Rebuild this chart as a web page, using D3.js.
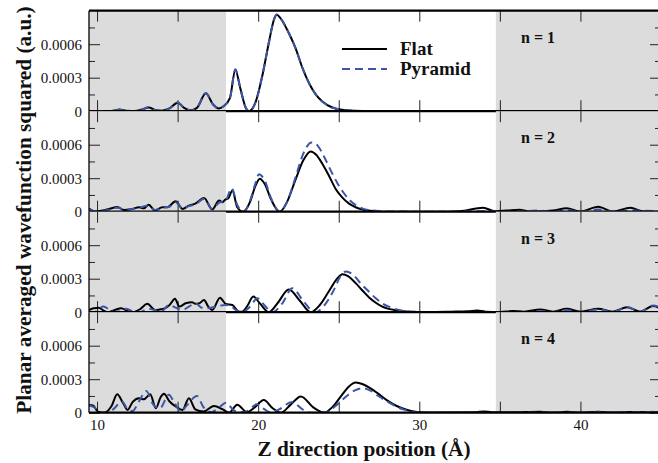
<!DOCTYPE html>
<html>
<head>
<meta charset="utf-8">
<script src="https://cdn.jsdelivr.net/npm/d3@7"></script>
<style>
  body { margin: 0; background: #fff; }
  text { font-family: "Liberation Serif", "Times New Roman", serif; fill: #111; }
</style>
</head>
<body>
<svg id="chart" width="658" height="463"></svg>
<script>
/* global d3 */

// values are in units of 1e-4 (a.u.), x in Angstrom
var flat1 = [[9.5,0.02],[10.5,0],[11,0.05],[11.4,0.15],[11.8,0.05],[12.3,0.02],[12.8,0.15],[13.2,0.33],[13.6,0.12],[14,0.05],[14.5,0.25],[15,0.75],[15.4,0.3],[15.8,0.08],[16.2,0.3],[16.75,1.6],[17.2,0.6],[17.55,0.25],[17.85,0.45],[18.25,1.2],[18.58,3.7],[18.9,2.0],[19.2,0.4],[19.43,0],[19.85,0.85],[20.26,3.2],[20.67,6.2],[20.98,8.2],[21.15,8.63],[21.4,8.3],[21.9,7.0],[22.33,5.6],[22.74,3.9],[23.16,2.5],[23.57,1.5],[23.98,0.87],[24.6,0.33],[25.2,0.12],[26,0.03],[27,0],[45,0]];
var pyramid1 = [[9.5,0.02],[10.5,0],[11,0.05],[11.4,0.13],[11.8,0.05],[12.3,0.02],[12.8,0.15],[13.2,0.35],[13.6,0.12],[14,0.05],[14.5,0.25],[15,0.78],[15.4,0.3],[15.8,0.08],[16.2,0.3],[16.75,1.62],[17.2,0.6],[17.55,0.25],[17.85,0.45],[18.25,1.2],[18.58,3.75],[18.9,2.0],[19.2,0.4],[19.43,0],[19.85,0.85],[20.26,3.2],[20.67,6.2],[20.98,8.2],[21.15,8.65],[21.4,8.3],[21.9,7.0],[22.33,5.6],[22.74,3.9],[23.16,2.5],[23.57,1.5],[23.98,0.87],[24.6,0.33],[25.2,0.12],[26,0.03],[27,0],[45,0]];

var flat2 = [[9.5,0.27],[9.9,0],[10.5,0.15],[11.26,0.42],[11.67,0.15],[12.2,0.25],[12.6,0.4],[12.9,0.3],[13.2,0.63],[13.6,0.1],[14.05,0.4],[14.36,0.4],[14.88,0.93],[15.3,0.25],[15.7,0.55],[16.1,0.72],[16.64,1.22],[17.15,0.2],[17.57,1.0],[17.78,0.85],[17.98,1.1],[18.15,1.2],[18.4,1.9],[18.7,0.4],[19.06,0],[19.5,0.9],[19.8,2.2],[20.1,2.96],[20.4,2.5],[20.8,1.1],[21.33,0],[21.8,0.9],[22.3,2.8],[22.8,4.6],[23.26,5.4],[23.6,5.1],[23.98,4.3],[24.4,3.2],[24.8,2.06],[25.2,1.3],[25.64,0.72],[26.05,0.4],[26.47,0.2],[27.3,0.05],[28,0],[31,0],[32.5,0.05],[33.96,0.35],[34.7,0.05],[35.4,0.1],[36.2,0.18],[36.8,0.02],[37.8,0.05],[38.3,0.1],[39.15,0.3],[40,0],[41.1,0.45],[42,0],[43.1,0.35],[43.9,0.02],[45,0]];
var pyramid2 = [[9.5,0.2],[9.9,0.05],[10.5,0.1],[11.26,0.35],[11.67,0.2],[12.2,0.25],[12.6,0.35],[13.2,0.55],[13.6,0.15],[14.05,0.35],[14.5,0.45],[14.88,0.85],[15.3,0.3],[15.7,0.5],[16.1,0.65],[16.64,1.15],[17.15,0.25],[17.57,0.8],[17.98,1.0],[18.35,2.1],[18.7,0.6],[19.1,0],[19.5,1.0],[19.8,2.4],[20.05,3.35],[20.4,2.8],[20.8,1.2],[21.35,0],[21.8,0.9],[22.3,3.0],[22.8,5.2],[23.32,6.2],[23.7,5.9],[24.1,4.9],[24.5,3.7],[24.9,2.6],[25.3,1.7],[25.7,1.0],[26.1,0.55],[26.5,0.28],[27.3,0.08],[28,0.02],[31,0],[34,0.05],[35.5,0],[37.5,0.1],[38.3,0],[39.2,0.15],[40,0],[41.1,0.2],[42,0],[43.1,0.1],[45,0.05]];

var flat3 = [[9.5,0.2],[9.8,0.35],[10.1,0.4],[10.4,0.15],[10.65,0],[11.1,0.2],[11.5,0.36],[11.9,0.1],[12.2,0],[12.7,0.3],[13.12,0.75],[13.6,0.2],[13.9,0.25],[14.2,0.35],[14.5,0.65],[14.84,1.2],[15.1,0.5],[15.5,0.8],[15.9,0.9],[16.1,0.75],[16.35,0.8],[16.64,1.1],[16.9,0.5],[17.15,0.2],[17.63,1.3],[17.98,0.75],[18.4,0.65],[18.8,0.05],[19.0,0.05],[19.3,0.5],[19.7,1.4],[20.1,0.8],[20.67,0],[21.2,0.8],[21.9,2.03],[22.6,1.0],[23.26,0],[23.8,0.6],[24.4,1.9],[24.9,3.0],[25.23,3.4],[25.6,3.2],[26.05,2.6],[26.5,1.9],[26.9,1.3],[27.3,0.85],[27.7,0.5],[28.1,0.3],[28.54,0.18],[29.4,0.05],[30.5,0.02],[32,0.05],[33,0.08],[33.6,0.15],[34.1,0.05],[35,0.02],[35.8,0.1],[36.5,0.05],[37.5,0.25],[38.3,0.05],[39.15,0.3],[40,0.05],[41.1,0.3],[42,0.05],[42.9,0.45],[43.7,0.05],[44.5,0.55],[45,0.3]];
var pyramid3 = [[9.5,0.05],[9.8,0],[10.4,0.5],[10.8,0.2],[11.15,0],[11.8,0.3],[12.3,0.05],[12.6,0],[13.2,0.3],[13.7,0.15],[14,0.1],[14.47,0.65],[14.9,0.4],[15.3,0.2],[15.7,0.5],[16.1,0.8],[16.5,0.4],[16.85,0.35],[17.36,0.5],[17.98,0.65],[18.3,0.55],[18.6,0.2],[19,0],[19.5,0.5],[19.95,1.25],[20.4,0.6],[20.88,0],[21.5,0.8],[22.12,2.15],[22.8,1.0],[23.53,0],[24.1,0.6],[24.7,2.0],[25.1,3.2],[25.45,3.65],[25.8,3.45],[26.47,2.4],[26.9,1.8],[27.3,1.25],[27.7,0.8],[28.1,0.5],[28.6,0.25],[29,0.12],[29.8,0.03],[31,0],[36.5,0],[37.5,0.1],[38.3,0],[39.15,0.2],[40,0],[41.1,0.25],[42,0.02],[42.9,0.45],[43.7,0.05],[44.5,0.6],[45,0.4]];

var flat4 = [[9.5,0.7],[9.75,0.65],[10.05,0.1],[10.45,0],[10.9,0.6],[11.25,1.65],[11.6,0.9],[11.9,0.25],[12.2,0.95],[12.6,1.3],[12.9,1.2],[13.3,1.65],[13.65,0.4],[13.95,1.4],[14.15,1.7],[14.5,1.0],[14.9,0.55],[15.3,0.25],[15.7,1.3],[16.1,0.3],[16.6,0.1],[17.25,0.6],[17.8,0.3],[18.2,0],[18.7,0.72],[19.3,0.05],[19.8,0.5],[20.35,1.13],[20.9,0.4],[21.4,0],[22,0.7],[22.65,1.46],[23.4,0.5],[24.1,0],[24.6,0.5],[25.2,1.6],[25.6,2.3],[26.05,2.7],[26.5,2.55],[27,2.15],[27.4,1.75],[28,1.1],[28.6,0.6],[29,0.38],[29.5,0.15],[30,0.05],[31,0.02],[33.5,0.05],[34,0.1],[34.5,0.05],[35.5,0.03],[37.5,0.08],[38.3,0.02],[39.2,0.08],[40,0.02],[41.1,0.08],[42,0.02],[43,0.06],[45,0.05]];
var pyramid4 = [[9.5,0.65],[9.8,0.5],[10.2,0.05],[10.6,0],[11,0.3],[11.55,1.0],[11.9,0.3],[12.2,0.15],[12.6,1.0],[13.05,1.95],[13.5,0.7],[13.9,0.4],[14.45,1.6],[14.8,0.9],[15.2,0.1],[15.6,0.7],[16.2,1.5],[16.6,0.5],[17.1,0.05],[17.6,0.5],[18,0.9],[18.5,0.2],[19,0.05],[19.4,0.2],[19.9,0.75],[20.4,0.3],[20.8,0.02],[21.3,0.3],[22.1,0.95],[22.8,0.25],[23.3,0],[24.2,0.05],[24.8,0.6],[25.5,1.5],[26,2.0],[26.5,2.2],[27,1.95],[27.5,1.45],[28,1.0],[28.5,0.6],[29,0.3],[29.5,0.12],[30.2,0.03],[31,0],[40,0.02],[42,0.05],[44,0.05],[45,0.15]];

var panelLabels = ["n = 1", "n = 2", "n = 3", "n = 4"];
var seriesNames = ["Flat", "Pyramid"];
var flatData = [flat1, flat2, flat3, flat4];
var pyramidData = [pyramid1, pyramid2, pyramid3, pyramid4];
var yMajorTicks = [0, 3, 6];
var yMinorTicks = [1.5, 4.5, 7.5];
var xTicks = [10, 15, 20, 25, 30, 35, 40, 45];
var shadeRanges = [[9.5, 18], [34.75, 45]];

(function () {
  var margin = { left: 89, right: 661, top: 10.7 },
      panelH = 100.5,
      blue = "#3d55a8",
      serif = '"Liberation Serif", "Times New Roman", serif';

  var svg = d3.select("#chart");

  var x = d3.scaleLinear().domain([9.5, 45]).range([margin.left, margin.right]);
  var y = d3.scaleLinear().domain([0, 9]).range([panelH, 0]);

  function translation(a, b) { return "translate(" + a + "," + b + ")"; }

  svg.append("clipPath").attr("id", "clip")
    .append("rect").attr("x", margin.left).attr("y", -1)
    .attr("width", margin.right - margin.left).attr("height", panelH + 1);

  var line = d3.line()
    .x(function (d) { return x(d[0]); })
    .y(function (d) { return y(d[1]); })
    .curve(d3.curveMonotoneX);

  function styleAxis(g) {
    g.attr("font-family", serif).attr("font-size", 15);
    g.select(".domain").remove();
    g.selectAll(".tick line").attr("stroke", "#222").attr("stroke-width", 1);
    g.selectAll(".tick text").attr("fill", "#111")
      .style("font-family", serif).style("font-size", "15px");
  }

  panelLabels.forEach(function (label, i) {
    var g = svg.append("g").attr("transform", translation(0, margin.top + i * panelH));

    // grey shaded regions
    g.selectAll("rect.shade").data(shadeRanges).enter().append("rect")
      .attr("class", "shade")
      .attr("x", function (d) { return x(d[0]); })
      .attr("width", function (d) { return x(d[1]) - x(d[0]); })
      .attr("y", 0).attr("height", panelH)
      .attr("fill", "#dcdcdc");

    // ticks, all pointing inward
    g.append("g").call(d3.axisTop(x).tickValues(xTicks).tickSize(-11).tickFormat("")).call(styleAxis);
    var bottomAxis = d3.axisBottom(x).tickValues(xTicks).tickSize(-11).tickPadding(7)
      .tickFormat(function (d) { return (i === 3 && d % 10 === 0 && d < 45) ? d : ""; });
    g.append("g").attr("transform", translation(0, panelH)).call(bottomAxis).call(styleAxis);

    g.append("g").attr("transform", translation(margin.left, 0))
      .call(d3.axisLeft(y).tickValues(yMajorTicks).tickSize(-11).tickPadding(7)
        .tickFormat(function (d) { return d === 0 ? "0" : (d * 1e-4).toFixed(4); }))
      .call(styleAxis);
    g.append("g").attr("transform", translation(margin.left, 0))
      .call(d3.axisLeft(y).tickValues(yMinorTicks).tickSize(-6).tickFormat("")).call(styleAxis);
    g.append("g").attr("transform", translation(margin.right, 0))
      .call(d3.axisRight(y).tickValues(yMajorTicks).tickSize(-11).tickFormat("")).call(styleAxis);
    g.append("g").attr("transform", translation(margin.right, 0))
      .call(d3.axisRight(y).tickValues(yMinorTicks).tickSize(-6).tickFormat("")).call(styleAxis);

    // curves
    var lines = g.append("g").attr("clip-path", "url(#clip)");
    lines.append("path").datum(flatData[i])
      .attr("d", line).attr("fill", "none")
      .attr("stroke", "#000").attr("stroke-width", 2);
    lines.append("path").datum(pyramidData[i])
      .attr("d", line).attr("fill", "none")
      .attr("stroke", blue).attr("stroke-width", 2)
      .attr("stroke-dasharray", "8,5");

    // frame
    g.append("line").attr("x1", margin.left).attr("x2", margin.left).attr("y1", 0).attr("y2", panelH)
      .attr("stroke", "#000").attr("stroke-width", 1.3);
    g.append("line").attr("x1", margin.right).attr("x2", margin.right).attr("y1", 0).attr("y2", panelH)
      .attr("stroke", "#000").attr("stroke-width", 1.3);
    g.append("line").attr("x1", margin.left).attr("x2", margin.right).attr("y1", panelH).attr("y2", panelH)
      .attr("stroke", "#000").attr("stroke-width", 2.2);
    if (i === 0) {
      g.append("line").attr("x1", margin.left).attr("x2", margin.right).attr("y1", 0).attr("y2", 0)
        .attr("stroke", "#000").attr("stroke-width", 2.2);
    }

    g.append("text").attr("x", 521).attr("y", 32)
      .style("font-size", "16px").style("font-weight", "bold")
      .text(label);
  });

  // legend
  var legend = svg.append("g").attr("transform", translation(342, 49));
  seriesNames.forEach(function (name, k) {
    legend.append("line").attr("x1", 0).attr("x2", 45).attr("y1", k * 20).attr("y2", k * 20)
      .attr("stroke", k === 0 ? "#000" : blue).attr("stroke-width", 2)
      .attr("stroke-dasharray", k === 0 ? null : "8,5");
    legend.append("text").attr("x", 58).attr("y", k * 20 + 6)
      .style("font-size", "19px").style("font-weight", "bold")
      .text(name);
  });

  // axis titles
  svg.append("text")
    .attr("transform", "translate(31,210) rotate(-90)")
    .attr("text-anchor", "middle")
    .style("font-size", "21.3px").style("font-weight", "bold")
    .text("Planar averaged wavefunction squared (a.u.)");

  svg.append("text")
    .attr("x", 364).attr("y", 456)
    .attr("text-anchor", "middle")
    .style("font-size", "21.3px").style("font-weight", "bold")
    .text("Z direction position (Å)");
})();
</script>
</body>
</html>
